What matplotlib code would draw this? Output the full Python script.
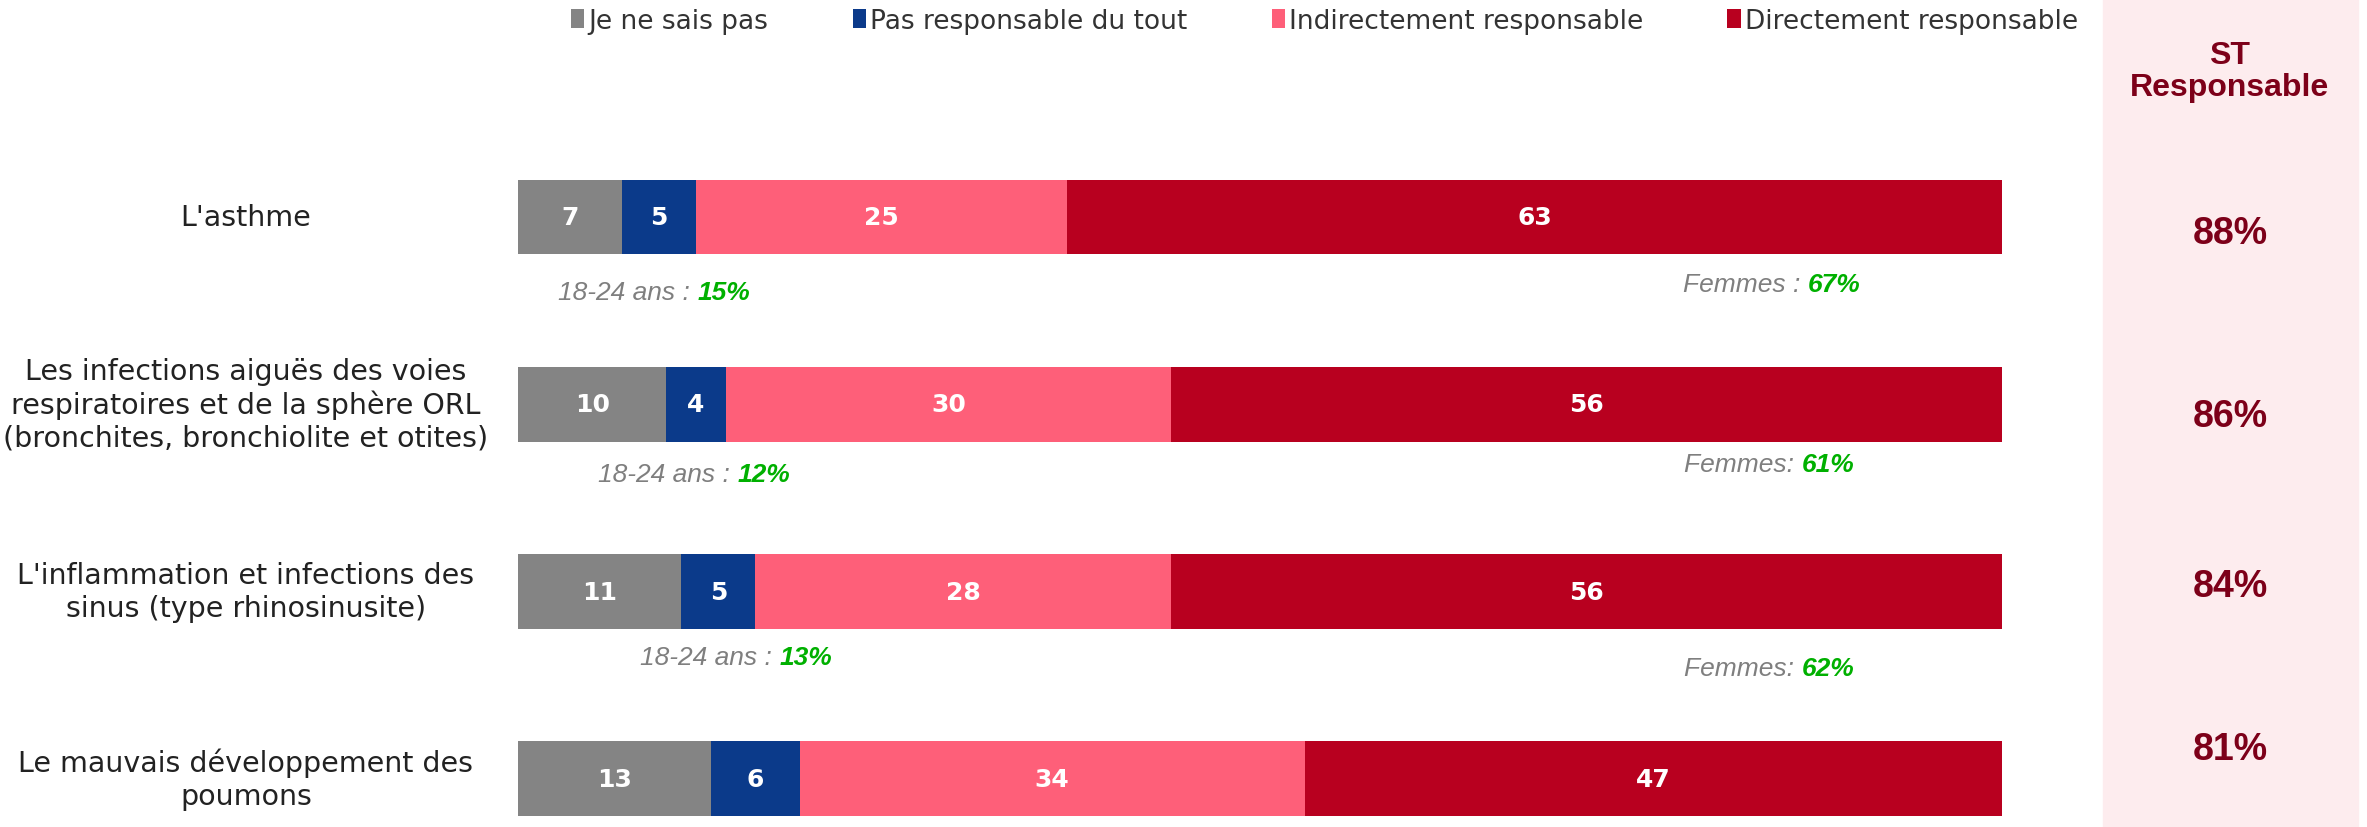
import matplotlib
matplotlib.use("Agg")
import numpy as np
import matplotlib.pyplot as plt
from matplotlib.patches import Rectangle
from matplotlib.transforms import blended_transform_factory

plt.rcParams['font.family'] = ['DejaVu Sans']

# donnees
categories = ["L'asthme",
              "Les infections aiguës des voies\nrespiratoires et de la sphère ORL\n(bronchites, bronchiolite et otites)",
              "L'inflammation et infections des\nsinus (type rhinosinusite)",
              "Le mauvais développement des\npoumons"]
series_names = ["Je ne sais pas", "Pas responsable du tout",
                "Indirectement responsable", "Directement responsable"]
ne_sait_pas = [7, 10, 11, 13]
pas_resp = [5, 4, 5, 6]
indirect = [25, 30, 28, 34]
direct = [63, 56, 56, 47]
colors = ["#848484", "#0b3a8a", "#fe5f79", "#b8001f"]

jeunes_labels = ["18-24 ans : ", "18-24 ans : ", "18-24 ans : "]
jeunes_vals = [15, 12, 13]
femmes_labels = ["Femmes : ", "Femmes: ", "Femmes: "]
femmes_vals = [67, 61, 62]

st_resp = [i + d for i, d in zip(indirect, direct)]

fig = plt.figure(figsize=(23.67, 8.28), dpi=100)

# panneau de droite (fond rose)
fig.patches.append(Rectangle((2103 / 2367, 0), (2358 - 2103) / 2367, 1,
                             transform=fig.transFigure, color='#fdecee', zorder=-5))

ax = fig.add_axes([518 / 2367, 0, (2002 - 518) / 2367, 1])
ax.set_xlim(0, 100)
ax.set_ylim(3.257, -1.164)
ax.axis('off')

y = np.arange(len(categories))
left = np.zeros(len(categories))
containers = []
for name, vals, c in zip(series_names, [ne_sait_pas, pas_resp, indirect, direct], colors):
    bc = ax.barh(y, vals, left=left, height=0.4, color=c, label=name)
    ax.bar_label(bc, labels=[str(v) for v in vals], label_type='center',
                 color='white', fontweight='bold', fontsize=18,
                 family=['Liberation Sans Narrow', 'DejaVu Sans'])
    containers.append(bc)
    left += np.array(vals)

# libelles des categories
trans = blended_transform_factory(fig.transFigure, ax.transData)
for yi, cat in zip(y, categories):
    ax.text(246 / 2367, yi, cat, transform=trans, ha='center', va='center',
            fontsize=20.5, color='#222222', linespacing=1.2)

# sous-groupes
ann_font = dict(fontsize=19, family='Liberation Sans', style='italic')
jeunes_x = [12.1, 14.8, 17.6]
jeunes_dy = [0.40, 0.37, 0.35]
femmes_x = [86.9, 86.5, 86.5]
femmes_dy = [0.36, 0.32, 0.41]
for i in range(3):
    t1 = ax.text(jeunes_x[i], y[i] + jeunes_dy[i], jeunes_labels[i], ha='right',
                 va='center', color='#7f7f7f', **ann_font)
    ax.annotate("%d%%" % jeunes_vals[i], xy=(1, 0), xycoords=t1, ha='left', va='bottom',
                color='#00b000', fontweight='bold', **ann_font)
    t2 = ax.text(femmes_x[i], y[i] + femmes_dy[i], femmes_labels[i], ha='right',
                 va='center', color='#7f7f7f', **ann_font)
    ax.annotate("%d%%" % femmes_vals[i], xy=(1, 0), xycoords=t2, ha='left', va='bottom',
                color='#00b000', fontweight='bold', **ann_font)

# ST Responsable
fig.text(2230 / 2367, 1 - 72 / 828, "ST\nResponsable", ha='center', va='center',
         fontsize=23, fontweight='bold', color='#7d0019', family='Liberation Sans',
         linespacing=1.1)
st_dy = [0.085, 0.06, -0.03, -0.16]
for yi, v, d in zip(y, st_resp, st_dy):
    ax.text(2230 / 2367, yi + d, "%d%%" % v, transform=trans, ha='center', va='center',
            fontsize=27, fontweight='bold', color='#7d0019', family='Liberation Sans')

# legende
fig.legend(handles=containers, loc='center left', bbox_to_anchor=(558 / 2367, 1 - 22 / 828),
           ncol=4, frameon=False, fontsize=19, handlelength=0.5, handleheight=0.72,
           handletextpad=0.15, columnspacing=3.2, labelcolor='#333333', borderpad=0)

fig.savefig("out.png", dpi=100, facecolor='white')
